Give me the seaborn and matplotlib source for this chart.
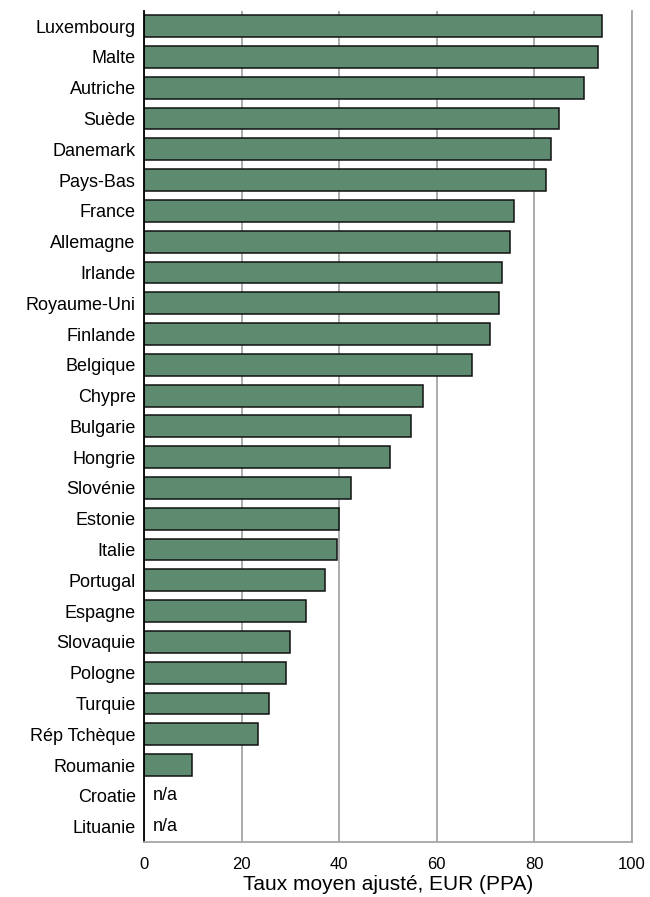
"""
Taux moyen ajusté par pays, barres horizontales.
"""

import numpy as np
import pandas as pd
import matplotlib
matplotlib.use("Agg")
import matplotlib.pyplot as plt
import seaborn as sns

countries = [
    "Luxembourg", "Malte", "Autriche", "Suède", "Danemark", "Pays-Bas",
    "France", "Allemagne", "Irlande", "Royaume-Uni", "Finlande", "Belgique",
    "Chypre", "Bulgarie", "Hongrie", "Slovénie", "Estonie", "Italie",
    "Portugal", "Espagne", "Slovaquie", "Pologne", "Turquie", "Rép Tchèque",
    "Roumanie", "Croatie", "Lituanie",
]
rates = [
    93.9, 93.1, 90.2, 85.1, 83.5, 82.4,
    75.8, 75.1, 73.4, 72.8, 70.9, 67.2,
    57.2, 54.7, 50.4, 42.5, 39.9, 39.6,
    37.1, 33.2, 30.0, 29.1, 25.7, 23.4,
    9.8, np.nan, np.nan,
]
x_ticks = [0, 20, 40, 60, 80, 100]
x_label = "Taux moyen ajusté, EUR (PPA)"
missing_label = "n/a"

df = pd.DataFrame({"pays": countries, "taux": rates})

sns.set_style("white", {"text.color": "black", "xtick.color": "black",
                        "ytick.color": "black", "axes.labelcolor": "black"})
plt.rcParams["font.family"] = ["Liberation Sans", "DejaVu Sans"]

grid_col = "#a6a6a6"
bar_col = "#5e8a70"

fig = plt.figure(figsize=(6.5, 8.97), dpi=100)
ax = fig.add_axes([0.2215, 0.0613, 0.7508, 0.9267])

sns.barplot(data=df, x="taux", y="pays", order=countries, orient="h",
            color=bar_col, edgecolor="#111111", linewidth=1.1,
            width=0.71, errorbar=None, saturation=1, ax=ax)

# pays sans données
for i, (c, v) in enumerate(zip(countries, rates)):
    if np.isnan(v):
        ax.text(1.8, i, missing_label, ha="left", va="center", fontsize=13)

ax.set_xlim(0, 100)
ax.set_ylim(len(countries) - 0.5, -0.5)
ax.set_xticks(x_ticks)
ax.grid(axis="x", color=grid_col, linewidth=1.3)
ax.grid(axis="y", visible=False)
ax.set_axisbelow(True)

ax.spines["top"].set_visible(False)
ax.spines["right"].set_color(grid_col)
ax.spines["right"].set_linewidth(1.3)
ax.spines["bottom"].set_color(grid_col)
ax.spines["bottom"].set_linewidth(1.3)
ax.spines["left"].set_color("black")
ax.spines["left"].set_linewidth(1.3)

ax.tick_params(axis="both", length=0)
ax.tick_params(axis="y", pad=6, labelsize=13)
ax.tick_params(axis="x", pad=11, labelsize=12)
ax.set_ylabel("")
ax.set_xlabel(x_label, fontsize=15, va="top")
ax.xaxis.set_label_coords(0.5, -0.0395)

fig.savefig("out.png", dpi=100)
